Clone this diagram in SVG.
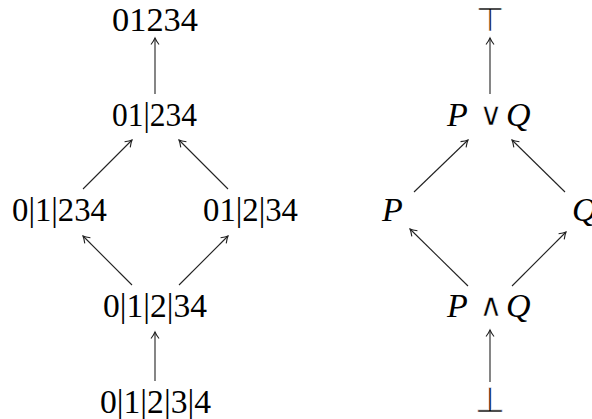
<svg xmlns="http://www.w3.org/2000/svg" width="592" height="419" viewBox="0 0 592 419">
<defs>
<style>
.t{font-family:"Liberation Serif","Times New Roman",serif;font-size:34px;fill:#000;text-anchor:middle}
.i{font-family:"Liberation Serif","Times New Roman",serif;font-size:34px;font-style:italic;fill:#000}
.s{font-family:"DejaVu Sans","DejaVu Serif",sans-serif;fill:#000;text-anchor:middle;stroke:#fff;stroke-width:0.6px}
.c line{stroke:#222;stroke-width:1.1;fill:none;marker-end:url(#ah)}
</style>
<marker id="ah" viewBox="-8 -5 10 10" refX="0" refY="0" markerWidth="10" markerHeight="10" markerUnits="userSpaceOnUse" orient="auto">
<path d="M -6.5 -4 Q -2.5 -1 0 0 Q -2.5 1 -6.5 4" fill="none" stroke="#222" stroke-width="1.1"/>
</marker>
</defs>
<rect width="592" height="419" fill="#fff"/>
<g id="n01234"><text class="t" x="155" y="31" textLength="86" lengthAdjust="spacingAndGlyphs">01234</text></g>
<g id="n01_234"><text class="t" x="154.5" y="126" textLength="85" lengthAdjust="spacingAndGlyphs">01|234</text></g>
<g id="n0_1_234"><text class="t" x="59.5" y="221" textLength="95" lengthAdjust="spacingAndGlyphs">0|1|234</text></g>
<g id="n01_2_34"><text class="t" x="250.5" y="221" textLength="95" lengthAdjust="spacingAndGlyphs">01|2|34</text></g>
<g id="n0_1_2_34"><text class="t" x="155" y="317" textLength="104" lengthAdjust="spacingAndGlyphs">0|1|2|34</text></g>
<g id="n0_1_2_3_4"><text class="t" x="155.5" y="413" textLength="111" lengthAdjust="spacingAndGlyphs">0|1|2|3|4</text></g>
<g id="top"><text class="s" x="490" y="31" font-size="33">⊤</text></g>
<g id="PorQ"><text class="i" x="447" y="126">P</text><text class="s" x="491" y="125" font-size="32">∨</text><text class="i" x="506" y="126">Q</text></g>
<g id="P"><text class="i" x="382" y="221">P</text></g>
<g id="Q"><text class="i" x="572" y="221">Q</text></g>
<g id="PandQ"><text class="i" x="447" y="317">P</text><text class="s" x="491" y="316" font-size="32">∧</text><text class="i" x="506" y="317">Q</text></g>
<g id="bot"><text class="s" x="490" y="412" font-size="35">⊥</text></g>
<g id="connectors" class="c">
<line x1="155" y1="94" x2="155" y2="38"/>
<line x1="83" y1="189" x2="132" y2="140"/>
<line x1="228" y1="189" x2="179" y2="140"/>
<line x1="132" y1="285" x2="83" y2="236"/>
<line x1="179" y1="285" x2="228" y2="236"/>
<line x1="155" y1="381" x2="155" y2="332"/>
<line x1="490" y1="94" x2="490" y2="38"/>
<line x1="414" y1="192" x2="468" y2="140"/>
<line x1="565" y1="192" x2="512" y2="140"/>
<line x1="468" y1="286" x2="410" y2="229"/>
<line x1="512" y1="286" x2="566" y2="232"/>
<line x1="490" y1="382" x2="490" y2="330"/>
</g>
</svg>
